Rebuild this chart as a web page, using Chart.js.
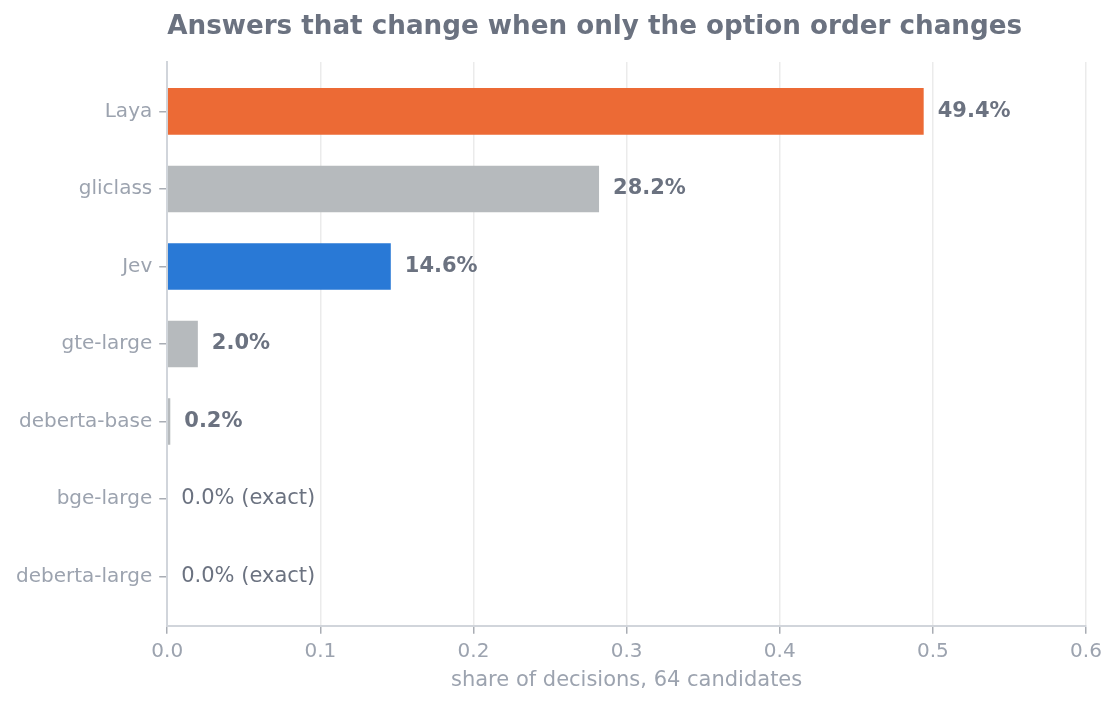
<!DOCTYPE html>
<html>
<head>
<meta charset="utf-8">
<script src="https://cdn.jsdelivr.net/npm/chart.js@4.4.1/dist/chart.umd.min.js"></script>
<style>
  html, body { margin: 0; padding: 0; background: #ffffff; }
  #wrap { width: 1116px; height: 707px; }
</style>
</head>
<body>
<div id="wrap"><canvas id="orderChart" width="1116" height="707"></canvas></div>
<script>
// Data
const models = ['Laya', 'gliclass', 'Jev', 'gte-large', 'deberta-base', 'bge-large', 'deberta-large'];
const flipShare = [0.494, 0.282, 0.146, 0.020, 0.002, 0.0, 0.0];
const barColors = ['#ec6a35', '#b6babd', '#2979d6', '#b6babd', '#b6babd', '#b6babd', '#b6babd'];
const xTicks = [0.0, 0.1, 0.2, 0.3, 0.4, 0.5, 0.6];

const chartTitle = 'Answers that change when only the option order changes';
const axisTitle = 'share of decisions, 64 candidates';
const FONT = "'DejaVu Sans', sans-serif";

// Title left-aligned with the plot area
const titlePlugin = {
    id: 'leftTitle',
    afterDraw(chart) {
        const ctx = chart.ctx;
        ctx.save();
        ctx.font = 'bold 26.2px ' + FONT;
        ctx.fillStyle = '#6b7280';
        ctx.textAlign = 'left';
        ctx.textBaseline = 'middle';
        ctx.fillText(chartTitle, chart.chartArea.left, 27);
        ctx.restore();
    }
};

// Value labels at the end of each bar
const valueLabels = {
    id: 'valueLabels',
    afterDatasetsDraw(chart) {
        const ctx = chart.ctx;
        const meta = chart.getDatasetMeta(0);
        ctx.save();
        ctx.fillStyle = '#6b7280';
        ctx.textAlign = 'left';
        ctx.textBaseline = 'middle';
        meta.data.forEach((bar, i) => {
            const v = flipShare[i];
            let text;
            if (v === 0) {
                ctx.font = '21px ' + FONT;
                text = '0.0% (exact)';
            } else {
                ctx.font = 'bold 21px ' + FONT;
                text = (v * 100).toFixed(1) + '%';
            }
            ctx.fillText(text, bar.x + 14, bar.y);
        });
        ctx.restore();
    }
};

new Chart(document.getElementById('orderChart').getContext('2d'), {
    type: 'bar',
    data: {
        datasets: [{
            data: flipShare.map((v, i) => ({ x: v, y: i })),
            backgroundColor: barColors,
            borderWidth: 0,
            barPercentage: 0.6,
            categoryPercentage: 1.0
        }]
    },
    options: {
        indexAxis: 'y',
        responsive: false,
        animation: false,
        devicePixelRatio: 1,
        layout: { padding: { top: 62, right: 30, bottom: 13, left: 9 } },
        plugins: {
            legend: { display: false },
            tooltip: { enabled: false },
            title: { display: false }
        },
        scales: {
            x: {
                type: 'linear',
                min: 0,
                max: 0.6,
                afterBuildTicks(scale) {
                    scale.ticks = xTicks.map(v => ({ value: v }));
                },
                ticks: {
                    color: '#9ca3af',
                    font: { family: FONT, size: 20 },
                    padding: 6,
                    callback: v => Number(v).toFixed(1)
                },
                grid: { color: '#ebebeb', lineWidth: 1.5, tickLength: 8, tickColor: '#a9adb4' },
                border: { color: '#d1d5db', width: 2 },
                title: {
                    display: true,
                    text: axisTitle,
                    color: '#9ca3af',
                    font: { family: FONT, size: 21 },
                    padding: { top: -2, bottom: 1 }
                }
            },
            y: {
                type: 'linear',
                reverse: true,
                offset: false,
                min: -0.637,
                max: 6.637,
                afterBuildTicks(scale) {
                    scale.ticks = models.map((m, i) => ({ value: i }));
                },
                ticks: {
                    color: '#9ca3af',
                    font: { family: FONT, size: 20 },
                    padding: 7,
                    callback: v => models[v]
                },
                grid: { drawOnChartArea: false, offset: false, tickLength: 8, color: '#a9adb4', lineWidth: 1.5 },
                border: { color: '#d1d5db', width: 2 }
            }
        }
    },
    plugins: [titlePlugin, valueLabels]
});
</script>
</body>
</html>
